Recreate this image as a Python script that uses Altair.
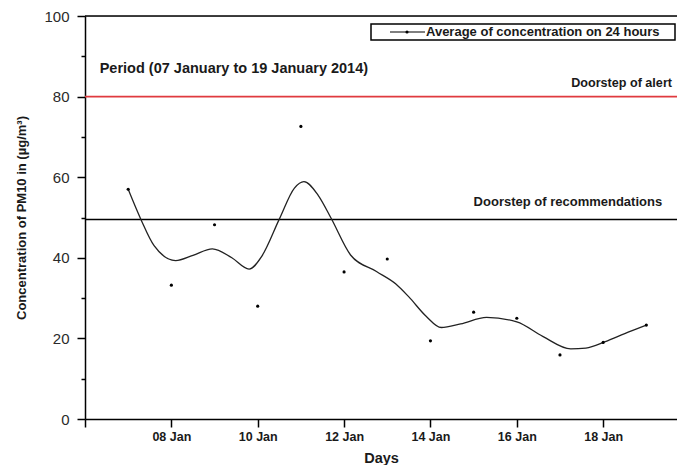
import altair as alt
import pandas as pd

# ---- data ----
days = list(range(7, 20))  # 07 Jan .. 19 Jan 2014
pm10 = [57.0, 33.2, 48.2, 28.0, 72.6, 36.5, 39.7, 19.4, 26.5, 25.0, 15.9, 19.0, 23.3]

# smoothed curve as drawn in the reference
curve_days = [7.0, 7.3, 7.6, 8.1, 8.5, 8.95, 9.4, 9.8, 10.1, 10.5, 10.85, 11.07, 11.4,
              11.7, 12.15, 12.75, 13.2, 13.5, 13.9, 14.25, 14.7, 15.3, 16.0, 16.6,
              17.25, 17.6, 18.05, 18.5, 19.0]
curve_pm10 = [57.0, 49.4, 43.0, 39.3, 40.6, 42.2, 40.0, 37.2, 40.5, 49.6, 57.3, 58.9, 55.5,
              49.8, 40.7, 36.6, 33.5, 30.3, 25.5, 22.7, 23.6, 25.2, 24.1, 20.5,
              17.4, 17.6, 19.2, 21.2, 23.3]

x_ticks = [6, 8, 10, 12, 14, 16, 18]
y_major = [0, 20, 40, 60, 80, 100]
y_minor = [10, 30, 50, 70, 90]
alert_level = [80]
recommendation_level = [49.5]
frame_top = [100]

notes_period = ["Period (07 January to 19 January 2014)"]
notes_alert = ["Doorstep of alert"]
notes_reco = ["Doorstep of recommendations"]
legend_label = "Average of concentration on 24 hours"

FONT = "Liberation Sans"
TXT = "#1a1a1a"

xscale = alt.Scale(domain=[6, 19.71], nice=False, zero=False)
yscale = alt.Scale(domain=[0, 100], nice=False)

pts_df = pd.DataFrame({"day": days, "pm10": pm10})
curve_df = pd.DataFrame({"day": curve_days, "pm10": curve_pm10})

x_axis = alt.Axis(
    values=x_ticks,
    labelExpr="datum.value == 6 ? '' : ((datum.value < 10 ? '0' : '') + datum.value + ' Jan')",
    title="Days", grid=False,
    tickSize=8, tickWidth=1.5, tickColor="black",
    domainColor="black", domainWidth=1.5,
    labelFont=FONT, labelFontWeight="bold", labelFontSize=12.5, labelColor=TXT, labelPadding=3,
    titleFont=FONT, titleFontSize=14.5, titleFontWeight="bold", titleColor=TXT, titlePadding=9,
)
y_axis = alt.Axis(
    values=y_major, title="Concentration of PM10 in (µg/m³)", grid=False, orient="left",
    tickSize=8, tickWidth=1.5, tickColor="black",
    domainColor="black", domainWidth=1.5,
    labelFont=FONT, labelFontSize=15, labelColor="#2a2a2a", labelPadding=8,
    titleFont=FONT, titleFontSize=13, titleFontWeight="bold", titleColor=TXT, titlePadding=15,
)
y_minor_axis = alt.Axis(
    values=y_minor, title=None, grid=False, orient="left", labels=False, domain=False,
    tickSize=4, tickWidth=1.5, tickColor="black",
)

points = alt.Chart(pts_df).mark_circle(size=10, color="black", opacity=1).encode(
    x=alt.X("day:Q", scale=xscale, axis=x_axis),
    y=alt.Y("pm10:Q", scale=yscale, axis=y_axis),
)

curve = alt.Chart(curve_df).mark_line(interpolate="monotone", color="#222", strokeWidth=1.3).encode(
    x=alt.X("day:Q", scale=xscale),
    y=alt.Y("pm10:Q", scale=yscale, axis=y_minor_axis),
)

alert = alt.Chart(pd.DataFrame({"v": alert_level})).mark_rule(color="#e03a3f", strokeWidth=1.6).encode(
    y=alt.Y("v:Q", scale=yscale, axis=None)
)
reco = alt.Chart(pd.DataFrame({"v": recommendation_level})).mark_rule(color="black", strokeWidth=1.6).encode(
    y=alt.Y("v:Q", scale=yscale, axis=None)
)
top = alt.Chart(pd.DataFrame({"v": frame_top})).mark_rule(color="black", strokeWidth=1.5).encode(
    y=alt.Y("v:Q", scale=yscale, axis=None)
)

def note(texts, xday, yval, size):
    df = pd.DataFrame({"t": texts, "x": [xday], "y": [yval]})
    return alt.Chart(df).mark_text(
        align="left", baseline="middle", font=FONT, fontWeight="bold", fontSize=size, color=TXT
    ).encode(
        x=alt.X("x:Q", scale=xscale),
        y=alt.Y("y:Q", scale=yscale, axis=None),
        text="t:N",
    )

period = note(notes_period, 6.34, 86.8, 14.5)
alert_txt = note(notes_alert, 17.26, 83.4, 12.6)
reco_txt = note(notes_reco, 15.0, 53.9, 13)

one = alt.Data(values=[{}])
leg_box = alt.Chart(one).mark_rect(fill="white", stroke="black", strokeWidth=1.5).encode(
    x=alt.value(286), x2=alt.value(590), y=alt.value(8), y2=alt.value(24)
)
leg_line = alt.Chart(one).mark_rule(color="black", strokeWidth=1.2).encode(
    x=alt.value(305), x2=alt.value(340), y=alt.value(16)
)
leg_dot = alt.Chart(one).mark_circle(size=10, color="black", opacity=1).encode(
    x=alt.value(322), y=alt.value(16)
)
leg_txt = alt.Chart(one).mark_text(
    text=legend_label, align="left", baseline="middle", font=FONT, fontWeight="bold",
    fontSize=13, color=TXT
).encode(x=alt.value(341), y=alt.value(16))

chart = alt.layer(
    top, alert, reco, curve, points, period, alert_txt, reco_txt,
    leg_box, leg_line, leg_dot, leg_txt,
).resolve_axis(y="independent").properties(
    width=592, height=403,
    padding={"left": 77, "top": 8, "right": 0, "bottom": 46},
    autosize=alt.AutoSizeParams(type="none"),
).configure_view(stroke=None).configure(background="white")

chart.save("out.html", embed_options={"renderer": "svg", "actions": False})
